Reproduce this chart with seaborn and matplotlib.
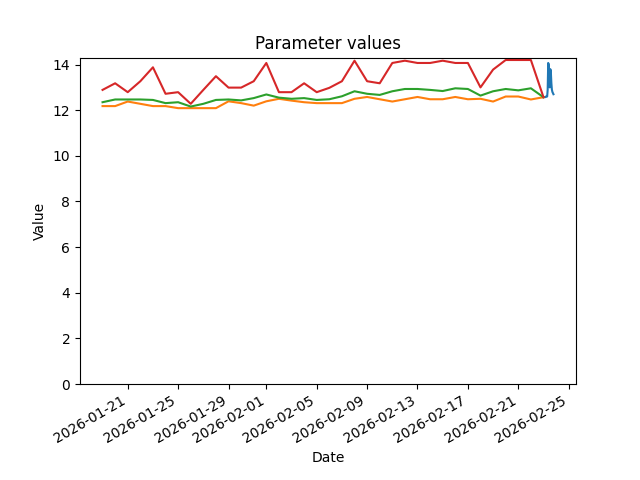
import matplotlib
matplotlib.use('Agg')
import matplotlib.pyplot as plt
import numpy as np
import pandas as pd
import seaborn as sns

# leituras horarias do ultimo dia
horas = pd.date_range('2026-02-23 00:00', periods=20, freq='h')
atual = [12.57, 12.57, 12.58, 12.57, 12.58, 12.60, 12.62, 12.60, 12.90, 14.07,
         14.00, 13.30, 13.00, 13.80, 13.70, 13.20, 12.90, 12.80, 12.75, 12.70]

# valores diarios
dias = pd.date_range('2026-01-19', periods=36, freq='D')
minimo = [12.18, 12.18, 12.38, 12.28, 12.18, 12.18, 12.09, 12.09, 12.09, 12.09,
          12.39, 12.31, 12.20, 12.39, 12.50, 12.42, 12.35, 12.31, 12.31, 12.31,
          12.50, 12.58, 12.48, 12.38, 12.48, 12.58, 12.48, 12.48, 12.58, 12.48,
          12.50, 12.38, 12.60, 12.60, 12.47, 12.57]
media = [12.35, 12.47, 12.47, 12.47, 12.45, 12.31, 12.35, 12.16, 12.28, 12.45,
         12.47, 12.43, 12.53, 12.69, 12.55, 12.50, 12.53, 12.45, 12.48, 12.61,
         12.83, 12.72, 12.67, 12.83, 12.93, 12.93, 12.89, 12.84, 12.96, 12.93,
         12.64, 12.83, 12.93, 12.87, 12.96, 12.57]
maximo = [12.89, 13.18, 12.79, 13.27, 13.88, 12.72, 12.79, 12.28, 12.89, 13.49,
          12.99, 12.99, 13.27, 14.07, 12.79, 12.79, 13.18, 12.79, 12.98, 13.27,
          14.17, 13.27, 13.18, 14.07, 14.17, 14.07, 14.07, 14.17, 14.07, 14.07,
          13.00, 13.78, 14.20, 14.20, 14.20, 12.57]

dados = pd.concat([
    pd.DataFrame({'Date': horas, 'Value': atual, 'serie': 'atual'}),
    pd.DataFrame({'Date': dias, 'Value': minimo, 'serie': 'minimo'}),
    pd.DataFrame({'Date': dias, 'Value': media, 'serie': 'media'}),
    pd.DataFrame({'Date': dias, 'Value': maximo, 'serie': 'maximo'}),
], ignore_index=True)

fig, ax = plt.subplots(figsize=(6.4, 4.8), dpi=100)
sns.lineplot(data=dados, x='Date', y='Value', hue='serie',
             palette=['C0', 'C1', 'C2', 'C3'], legend=False, ax=ax)
ax.set_ylim(bottom=0)
ax.set_title('Parameter values')
ax.set_xlabel('Date')
ax.set_ylabel('Value')
fig.autofmt_xdate()

plt.savefig('out.png')
